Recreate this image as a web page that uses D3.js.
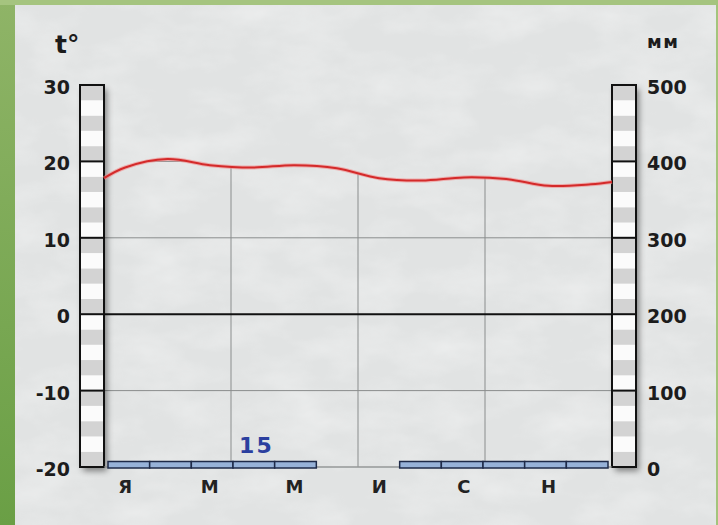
<!DOCTYPE html>
<html><head><meta charset="utf-8">
<script src="https://cdn.jsdelivr.net/npm/d3@7"></script>
<style>
html,body{margin:0;padding:0;background:#8fb466;}
svg{display:block;}
text{font-family:"DejaVu Sans",Verdana,sans-serif;font-weight:bold;}
</style></head>
<body><svg id="c" width="718" height="525"></svg>
<script>
// ---- data ----
const months = ["Я","Ф","М","А","М","И","И","А","С","О","Н","Д"];
const monthLabelIdx = [0,2,4,6,8,10];
const temperature = [19.2,20.3,19.5,19.2,19.5,19.1,17.8,17.5,17.9,17.7,16.8,17.0];
const tempEdges = [17.8,17.3];          // curve value at left and right borders
const precipitation = [1.5,1.5,1.5,1.5,1.5,0,0,1.5,1.5,1.5,1.5,1.5];
const precipTotal = "15";
const tempTicks = [-20,-10,0,10,20,30];
const precipTicks = [0,100,200,300,400,500];
const tempUnit = "t°";
const precipUnit = "мм";

// ---- layout ----
const svg = d3.select("#c");
const W = 718, H = 525;
const L = 104, R = 612, T = 85, B = 467;
const colW = 24;

const defs = svg.append("defs");
const g1 = defs.append("linearGradient").attr("id","grn").attr("x1",0).attr("y1",0).attr("x2",0).attr("y2",1);
g1.append("stop").attr("offset","0%").attr("stop-color","#8fb467");
g1.append("stop").attr("offset","100%").attr("stop-color","#6a9f45");
const f = defs.append("filter").attr("id","tex").attr("x",0).attr("y",0).attr("width","100%").attr("height","100%");
f.append("feTurbulence").attr("type","fractalNoise").attr("baseFrequency","0.015 0.03").attr("numOctaves",4).attr("seed",7);
f.append("feColorMatrix").attr("type","matrix")
 .attr("values","0 0 0 0 1  0 0 0 0 1  0 0 0 0 1  0 0 0 -1.2 0.75");
const sh = defs.append("filter").attr("id","shadow").attr("x","-30%").attr("y","-10%").attr("width","180%").attr("height","130%");
sh.append("feDropShadow").attr("dx",3).attr("dy",4).attr("stdDeviation",3).attr("flood-color","#000").attr("flood-opacity",0.45);

svg.append("rect").attr("width",W).attr("height",H).attr("fill","url(#grn)");
svg.append("rect").attr("x",0).attr("y",0).attr("width",W).attr("height",5).attr("fill","#a5c47f");
svg.append("rect").attr("x",716).attr("y",0).attr("width",2).attr("height",H).attr("fill","#a3c47c");
svg.append("rect").attr("x",15).attr("y",5).attr("width",701).attr("height",520).attr("fill","#e1e3e3");
svg.append("rect").attr("x",15).attr("y",5).attr("width",701).attr("height",520).attr("fill","#c9cccc").attr("filter","url(#tex)").attr("opacity",0.5);

// ---- scales ----
const x = d3.scaleLinear().domain([0,12]).range([L,R]);
const xb = d3.scaleLinear().domain([0,12]).range([L+4,R-4]);   // precipitation bar slots
const yT = d3.scaleLinear().domain([-20,30]).range([B,T]);
const yP = d3.scaleLinear().domain([0,500]).range([B,T]);

// temperature curve points
const pts = [[0,tempEdges[0]]].concat(temperature.map((t,i)=>[i+0.5,t])).concat([[12,tempEdges[1]]]);
const curve = d3.curveCatmullRom.alpha(0.5);
const lineGen = d3.line().x(d=>x(d[0])).y(d=>yT(d[1])).curve(curve);
const areaGen = d3.area().x(d=>x(d[0])).y0(B+2).y1(d=>yT(d[1])).curve(curve);

defs.append("clipPath").attr("id","below").append("path").attr("d",areaGen(pts));

// grid (only below the curve)
const grid = svg.append("g").attr("clip-path","url(#below)");
grid.selectAll("line.h").data(tempTicks.filter(t=>t!==0)).join("line")
  .attr("x1",L).attr("x2",R).attr("y1",d=>yT(d)).attr("y2",d=>yT(d))
  .attr("stroke","#8a8d8d").attr("stroke-width",1);
grid.selectAll("line.v").data([3,6,9]).join("line")
  .attr("x1",d=>x(d)).attr("x2",d=>x(d)).attr("y1",T).attr("y2",B)
  .attr("stroke","#8a8d8d").attr("stroke-width",1);
svg.append("line").attr("x1",L).attr("x2",R).attr("y1",yT(0)).attr("y2",yT(0))
  .attr("stroke","#111").attr("stroke-width",2);

// thermometer-style columns
function column(x0){
  const gc = svg.append("g");
  gc.append("rect").attr("x",x0).attr("y",T).attr("width",colW).attr("height",B-T)
    .attr("fill","#fafafa").attr("filter","url(#shadow)");
  gc.selectAll("rect.s").data(d3.range(-20,30,2)).join("rect")
    .attr("x",x0).attr("width",colW)
    .attr("y",d=>yT(d+2)).attr("height",d=>yT(d)-yT(d+2))
    .attr("fill",(d,i)=> i%2===0 ? "#d3d3d3" : "#fbfbfb");
  gc.selectAll("line").data(tempTicks).join("line")
    .attr("x1",x0).attr("x2",x0+colW).attr("y1",d=>yT(d)).attr("y2",d=>yT(d))
    .attr("stroke","#111").attr("stroke-width",2);
  gc.append("rect").attr("x",x0).attr("y",T).attr("width",colW).attr("height",B-T)
    .attr("fill","none").attr("stroke","#111").attr("stroke-width",2);
}
column(L-colW);
column(R);

// axes
const axL = d3.axisLeft(yT).tickValues(tempTicks).tickSize(0).tickPadding(10).tickFormat(d=>d<0?"-"+Math.abs(d):d);
const gL = svg.append("g").attr("transform",`translate(${L-colW},0)`).call(axL);
const axR = d3.axisRight(yP).tickValues(precipTicks).tickSize(0).tickPadding(11);
const gR = svg.append("g").attr("transform",`translate(${R+colW},0)`).call(axR);
[gL,gR].forEach(g=>{
  g.select(".domain").remove();
  g.selectAll("text").attr("font-size",19).attr("fill","#1c1c1c").attr("dy","0.45em")
    .style("font-family","'DejaVu Sans',Verdana,sans-serif").style("font-weight","bold");
});

svg.append("text").attr("x",55).attr("y",53).attr("font-size",25).attr("fill","#1c1c1c").text(tempUnit);
svg.append("text").attr("x",647).attr("y",48).attr("font-size",18).attr("letter-spacing",1.5).attr("fill","#1c1c1c").text(precipUnit);

// precipitation bars
svg.append("line").attr("x1",L).attr("x2",R).attr("y1",B).attr("y2",B).attr("stroke","#9a9d9d").attr("stroke-width",1);
const bw = xb(1)-xb(0);
svg.append("g").selectAll("rect").data(precipitation.map((v,i)=>({v,i})).filter(d=>d.v>0)).join("rect")
  .attr("x",d=>xb(d.i)).attr("width",bw)
  .attr("y",d=>Math.min(yP(d.v), yP(0)-5.5)).attr("height",d=>yP(0)+1-Math.min(yP(d.v), yP(0)-5.5))
  .attr("fill","#97b2d8").attr("stroke","#1e2a48").attr("stroke-width",1.5);

svg.append("text").attr("x",x(3.6)).attr("y",453).attr("text-anchor","middle")
  .attr("font-size",22).attr("letter-spacing",2).attr("fill","#2b3f9f").text(precipTotal);

// month labels
svg.append("g").selectAll("text").data(monthLabelIdx).join("text")
  .attr("x",d=>x(d+0.5)).attr("y",493).attr("text-anchor","middle")
  .attr("font-size",18).attr("fill","#222").text(d=>months[d]);

// temperature line
svg.append("path").attr("d",lineGen(pts)).attr("fill","none")
  .attr("stroke","#f28a8a").attr("stroke-width",4).attr("opacity",0.6);
svg.append("path").attr("d",lineGen(pts)).attr("fill","none")
  .attr("stroke","#d42a2a").attr("stroke-width",2);
</script></body></html>
